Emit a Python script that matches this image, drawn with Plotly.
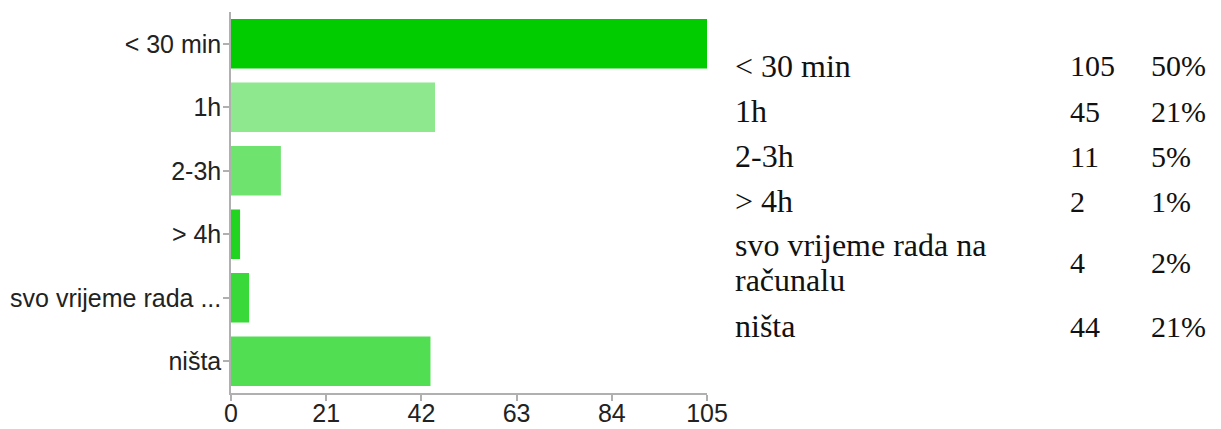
import plotly.graph_objects as go

categories = ["< 30 min", "1h", "2-3h", "> 4h", "svo vrijeme rada na računalu", "ništa"]
tick_labels = ["< 30 min", "1h", "2-3h", "> 4h", "svo vrijeme rada ...", "ništa"]
counts = [105, 45, 11, 2, 4, 44]
percents = ["50%", "21%", "5%", "1%", "2%", "21%"]
table_labels = ["< 30 min", "1h", "2-3h", "> 4h", "svo vrijeme rada na<br>računalu", "ništa"]
x_ticks = [0, 21, 42, 63, 84, 105]
bar_colors = ["#00cc00", "#8ee88e", "#6ee36e", "#20d420", "#3ad93a", "#52de52"]

W, H = 1221, 429
L, R, T, B = 231, 707, 12, 393

fig = go.Figure()
fig.add_trace(go.Bar(
    x=counts, y=tick_labels, orientation="h",
    marker=dict(color=bar_colors, line=dict(width=0)),
    width=0.78, hoverinfo="skip",
))

fig.update_layout(
    width=W, height=H,
    margin=dict(l=L, r=W - R, t=T, b=H - B, pad=0, autoexpand=False),
    plot_bgcolor="white", paper_bgcolor="white",
    showlegend=False,
    font=dict(family="Liberation Sans, Arial, sans-serif", size=25, color="#222"),
)
fig.update_xaxes(
    range=[0, 105], tickvals=x_ticks, ticktext=[str(v) for v in x_ticks],
    showgrid=False, zeroline=False, showline=True, linecolor="#b0b0b0", linewidth=1.5,
    ticks="outside", ticklen=6, tickcolor="#b0b0b0", tickwidth=1.5, automargin=False,
    ticklabelstandoff=-9,
    tickfont=dict(size=25, color="#222"), fixedrange=True,
)
fig.update_yaxes(
    autorange="reversed", categoryorder="array", categoryarray=tick_labels,
    showgrid=False, zeroline=False, showline=True, linecolor="#b0b0b0", linewidth=1.5,
    ticks="outside", ticklen=6, tickcolor="#b0b0b0", tickwidth=1.5, automargin=False,
    ticklabelstandoff=-3,
    tickfont=dict(size=25, color="#222"), fixedrange=True,
)

pw, ph = R - L, B - T
def px(xp):
    return (xp - L) / pw
def py(yp):
    return (B - yp) / ph

row_y = [66, 111, 156, 201, 262, 326]
LINE_GAP = 35
serif_lbl = dict(family="Liberation Serif, Times New Roman, serif", size=32, color="#111")
serif_num = dict(family="Liberation Serif, Times New Roman, serif", size=30, color="#111")
for i in range(len(categories)):
    yc = row_y[i]
    lines = table_labels[i].split("<br>")
    n = len(lines)
    for k, ln in enumerate(lines):
        yl = yc + (k - (n - 1) / 2) * LINE_GAP
        fig.add_annotation(x=px(733), y=py(yl), xref="paper", yref="paper", text=ln,
                           showarrow=False, xanchor="left", yanchor="middle", align="left",
                           font=serif_lbl)
    fig.add_annotation(x=px(1068), y=py(yc), xref="paper", yref="paper", text=str(counts[i]),
                       showarrow=False, xanchor="left", yanchor="middle", font=serif_num)
    fig.add_annotation(x=px(1149), y=py(yc), xref="paper", yref="paper", text=percents[i],
                       showarrow=False, xanchor="left", yanchor="middle", font=serif_num)

fig.write_html("out.html", config={"displayModeBar": False},
               post_script="document.body.style.margin='0';")
